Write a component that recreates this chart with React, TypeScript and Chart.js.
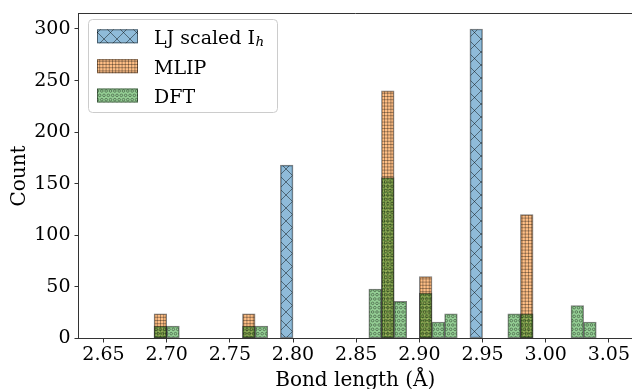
import { useEffect, useRef } from "react";
import { Chart, registerables } from "chart.js";

Chart.register(...registerables);

// ---- data (bin centres in Å, counts) ----
const ljCenters = [2.795, 2.945];
const ljCounts = [168, 300];

const mlipCenters = [2.695, 2.765, 2.875, 2.905, 2.985];
const mlipCounts = [24, 24, 240, 60, 120];

const dftCenters = [2.695, 2.705, 2.765, 2.775, 2.865, 2.875, 2.885, 2.905, 2.915, 2.925, 2.975, 2.985, 3.025, 3.035];
const dftCounts = [12, 12, 12, 12, 48, 156, 36, 44, 16, 24, 24, 24, 32, 16];

const xTicks = [2.65, 2.7, 2.75, 2.8, 2.85, 2.9, 2.95, 3.0, 3.05];
const yTicks = [0, 50, 100, 150, 200, 250, 300];

const seriesNames = ["LJ scaled I", "MLIP", "DFT"];
const ljSubscript = "h";

const X_MIN = 2.6302;
const X_MAX = 3.0683;
const Y_MIN = 0;
const Y_MAX = 315;

const FONT = "'DejaVu Serif', 'Liberation Serif', serif";

function tile(w: number, h: number, draw: (c: CanvasRenderingContext2D) => void) {
  const cv = document.createElement("canvas");
  cv.width = w;
  cv.height = h;
  const c = cv.getContext("2d")!;
  draw(c);
  return cv;
}

function makePatterns(ctx: CanvasRenderingContext2D) {
  // LJ: diagonal cross hatch
  const xTile = tile(13, 13, (c) => {
    c.fillStyle = "rgba(31,119,180,0.5)";
    c.fillRect(0, 0, 13, 13);
    c.strokeStyle = "rgba(0,0,0,0.45)";
    c.lineWidth = 1;
    c.beginPath();
    for (const k of [-13, 0, 13]) {
      c.moveTo(k, 0);
      c.lineTo(k + 13, 13);
      c.moveTo(k + 13, 0);
      c.lineTo(k, 13);
    }
    c.stroke();
  });
  // MLIP: dense plus grid
  const gTile = tile(16, 16, (c) => {
    c.fillStyle = "rgba(255,127,14,0.5)";
    c.fillRect(0, 0, 16, 16);
    c.strokeStyle = "rgba(0,0,0,0.33)";
    c.lineWidth = 1;
    c.beginPath();
    for (let i = 0; i < 5; i++) {
      const p = i * 3.2 + 0.5;
      c.moveTo(p, 0);
      c.lineTo(p, 16);
      c.moveTo(0, p);
      c.lineTo(16, p);
    }
    c.stroke();
  });
  // DFT: small circles, staggered
  const cTile = tile(13, 26, (c) => {
    c.fillStyle = "rgba(44,160,44,0.5)";
    c.fillRect(0, 0, 13, 26);
    c.strokeStyle = "rgba(0,0,0,0.45)";
    c.lineWidth = 0.8;
    const p = 13 / 3;
    for (let r = -1; r <= 7; r++) {
      const y = r * p;
      const off = (((r % 2) + 2) % 2) * (p / 2);
      for (let k = -1; k <= 4; k++) {
        const x = k * p + off;
        c.beginPath();
        c.arc(x, y, 1.3, 0, Math.PI * 2);
        c.stroke();
      }
    }
  });
  return {
    lj: ctx.createPattern(xTile, "repeat")!,
    mlip: ctx.createPattern(gTile, "repeat")!,
    dft: ctx.createPattern(cTile, "repeat")!,
  };
}

export default function App() {
  const ref = useRef<HTMLCanvasElement | null>(null);

  useEffect(() => {
    const canvas = ref.current!;
    const ctx = canvas.getContext("2d")!;
    const pats = makePatterns(ctx);
    const edge = "rgba(0,0,0,0.5)";

    const common = {
      borderColor: edge,
      borderWidth: 1,
      borderSkipped: false as const,
      grouped: false,
      barPercentage: 1,
      categoryPercentage: 1,
    };

    const framePlugin = {
      id: "frame",
      afterDraw(chart: any) {
        const { ctx: c, chartArea: a } = chart;
        c.save();
        c.strokeStyle = "#333";
        c.lineWidth = 1;
        c.beginPath();
        c.moveTo(a.left, a.top);
        c.lineTo(a.right + 0.5, a.top);
        c.moveTo(a.right + 0.5, a.top);
        c.lineTo(a.right + 0.5, a.bottom);
        c.stroke();
        c.restore();
      },
    };

    const legendPlugin = {
      id: "innerLegend",
      afterDraw(chart: any) {
        const c: CanvasRenderingContext2D = chart.ctx;
        const bx = 88.5, by = 19.5, bw = 189, bh = 93, r = 4;
        c.save();
        c.beginPath();
        c.moveTo(bx + r, by);
        c.lineTo(bx + bw - r, by);
        c.arcTo(bx + bw, by, bx + bw, by + r, r);
        c.lineTo(bx + bw, by + bh - r);
        c.arcTo(bx + bw, by + bh, bx + bw - r, by + bh, r);
        c.lineTo(bx + r, by + bh);
        c.arcTo(bx, by + bh, bx, by + bh - r, r);
        c.lineTo(bx, by + r);
        c.arcTo(bx, by, bx + r, by, r);
        c.closePath();
        c.fillStyle = "rgba(255,255,255,0.8)";
        c.fill();
        c.strokeStyle = "#cccccc";
        c.lineWidth = 1;
        c.stroke();

        const rows = [36.3, 66.2, 95.5];
        const ds = chart.data.datasets;
        rows.forEach((cy, i) => {
          const d = ds[i];
          c.fillStyle = d.backgroundColor;
          c.fillRect(97, cy - 7, 41, 14);
          c.strokeStyle = edge;
          c.lineWidth = 1;
          c.strokeRect(97.5, cy - 6.5, 40, 13);
          c.fillStyle = "#000";
          c.font = `19px ${FONT}`;
          c.textBaseline = "alphabetic";
          c.textAlign = "left";
          c.fillText(d.label, 154, cy + 7.5);
          if (i === 0) {
            const w = c.measureText(d.label).width;
            c.font = `italic 13.5px ${FONT}`;
            c.fillText(ljSubscript, 154 + w + 0.5, cy + 10);
          }
        });
        c.restore();
      },
    };

    const chart = new Chart(ctx, {
      type: "bar",
      data: {
        datasets: [
          {
            ...common,
            label: seriesNames[0],
            data: ljCenters.map((x, i) => ({ x, y: ljCounts[i] })),
            backgroundColor: pats.lj,
            order: 3,
          },
          {
            ...common,
            label: seriesNames[1],
            data: mlipCenters.map((x, i) => ({ x, y: mlipCounts[i] })),
            backgroundColor: pats.mlip,
            order: 2,
          },
          {
            ...common,
            label: seriesNames[2],
            data: dftCenters.map((x, i) => ({ x, y: dftCounts[i] })),
            backgroundColor: pats.dft,
            order: 1,
          },
        ] as any,
      },
      options: {
        animation: false,
        responsive: false,
        devicePixelRatio: 1,
        layout: { padding: { top: 10.5, left: 0, right: 8, bottom: 0 } },
        plugins: {
          legend: { display: false },
          tooltip: { enabled: false },
        },
        scales: {
          x: {
            type: "linear",
            min: X_MIN,
            max: X_MAX,
            offset: false,
            z: 1,
            afterBuildTicks: (s: any) => {
              s.ticks = xTicks.map((v) => ({ value: v }));
            },
            afterFit: (s: any) => {
              s.height = 400 - 338.5;
            },
            ticks: {
              autoSkip: false,
              maxRotation: 0,
              padding: 3,
              color: "#000",
              font: { family: FONT, size: 19, lineHeight: 1 },
              callback: (v: any) => Number(v).toFixed(2),
            },
            grid: {
              offset: false,
              drawOnChartArea: false,
              drawTicks: true,
              tickLength: 4,
              color: "#333",
            },
            border: { display: true, color: "#333", width: 1 },
            title: {
              display: true,
              text: "Bond length (Å)",
              color: "#000",
              font: { family: FONT, size: 20, lineHeight: 1.2 },
              padding: { top: 0, bottom: 7.5 },
            },
          },
          y: {
            type: "linear",
            min: Y_MIN,
            max: Y_MAX,
            afterBuildTicks: (s: any) => {
              s.ticks = yTicks.map((v) => ({ value: v }));
            },
            afterFit: (s: any) => {
              s.width = 78.5;
            },
            ticks: {
              padding: 4,
              color: "#000",
              font: { family: FONT, size: 19, lineHeight: 1 },
              callback: (v: any) => String(v),
            },
            grid: {
              drawOnChartArea: false,
              drawTicks: true,
              tickLength: 4,
              color: "#333",
            },
            border: { display: true, color: "#333", width: 1 },
            title: {
              display: true,
              text: "Count",
              color: "#000",
              font: { family: FONT, size: 20, lineHeight: 1.2 },
              padding: { top: 8, bottom: 0 },
            },
          },
        },
      },
      plugins: [framePlugin, legendPlugin],
    });

    return () => chart.destroy();
  }, []);

  return (
    <div
      style={{
        position: "fixed",
        left: 0,
        top: 0,
        width: 632,
        height: 389,
        overflow: "hidden",
        background: "#fff",
      }}
    >
      <canvas ref={ref} width={640} height={400} style={{ display: "block", width: 640, height: 400 }} />
    </div>
  );
}
